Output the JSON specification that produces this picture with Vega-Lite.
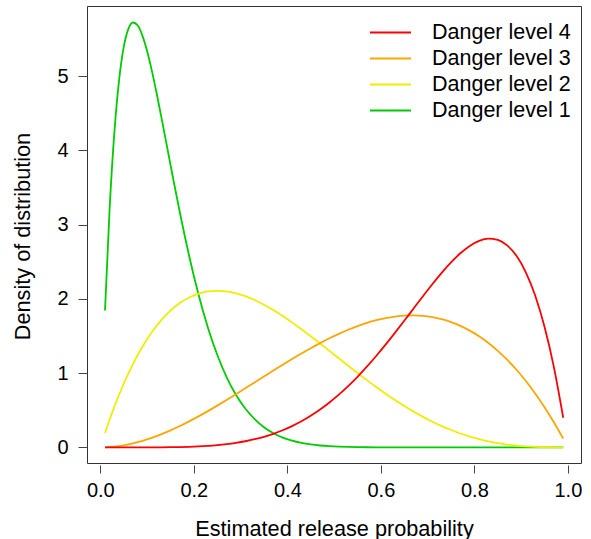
{
  "$schema": "https://vega.github.io/schema/vega-lite/v6.json",
  "width": 494,
  "height": 457,
  "autosize": {"type": "none"},
  "padding": {"left": 87, "top": 6, "right": 10, "bottom": 76},
  "background": "white",
  "config": {
    "font": "Liberation Sans",
    "view": {"stroke": "#333333", "strokeWidth": 1},
    "axis": {"grid": false, "domain": false, "labelColor": "black", "titleColor": "black", "tickColor": "#444444", "titleFontWeight": "normal", "labelFont": "Liberation Sans", "titleFont": "Liberation Sans"}
  },
  "datasets": {
    "curves": [
      {"p":0.01,"d":1.8428,"s":"Danger level 1"},{"p":0.02,"d":3.2299,"s":"Danger level 1"},{"p":0.03,"d":4.2401,"s":"Danger level 1"},{"p":0.04,"d":4.9411,"s":"Danger level 1"},{"p":0.05,"d":5.39,"s":"Danger level 1"},{"p":0.06,"d":5.6372,"s":"Danger level 1"},{"p":0.07,"d":5.7229,"s":"Danger level 1"},{"p":0.08,"d":5.6822,"s":"Danger level 1"},{"p":0.09,"d":5.5466,"s":"Danger level 1"},{"p":0.10,"d":5.3389,"s":"Danger level 1"},{"p":0.11,"d":5.0781,"s":"Danger level 1"},{"p":0.12,"d":4.7827,"s":"Danger level 1"},{"p":0.13,"d":4.4652,"s":"Danger level 1"},{"p":0.14,"d":4.1391,"s":"Danger level 1"},{"p":0.15,"d":3.8093,"s":"Danger level 1"},{"p":0.16,"d":3.4839,"s":"Danger level 1"},{"p":0.17,"d":3.1674,"s":"Danger level 1"},{"p":0.18,"d":2.8645,"s":"Danger level 1"},{"p":0.19,"d":2.5779,"s":"Danger level 1"},{"p":0.20,"d":2.3092,"s":"Danger level 1"},{"p":0.21,"d":2.0586,"s":"Danger level 1"},{"p":0.23,"d":1.6156,"s":"Danger level 1"},{"p":0.25,"d":1.2474,"s":"Danger level 1"},{"p":0.27,"d":0.948,"s":"Danger level 1"},{"p":0.29,"d":0.7095,"s":"Danger level 1"},{"p":0.31,"d":0.5232,"s":"Danger level 1"},{"p":0.33,"d":0.38,"s":"Danger level 1"},{"p":0.35,"d":0.2717,"s":"Danger level 1"},{"p":0.37,"d":0.1914,"s":"Danger level 1"},{"p":0.39,"d":0.1326,"s":"Danger level 1"},{"p":0.41,"d":0.0903,"s":"Danger level 1"},{"p":0.43,"d":0.0605,"s":"Danger level 1"},{"p":0.45,"d":0.0398,"s":"Danger level 1"},{"p":0.47,"d":0.0257,"s":"Danger level 1"},{"p":0.49,"d":0.0162,"s":"Danger level 1"},{"p":0.51,"d":0.0101,"s":"Danger level 1"},{"p":0.53,"d":0.0061,"s":"Danger level 1"},{"p":0.55,"d":0.0036,"s":"Danger level 1"},{"p":0.57,"d":0.0021,"s":"Danger level 1"},{"p":0.59,"d":0.0011,"s":"Danger level 1"},{"p":0.61,"d":0.0006,"s":"Danger level 1"},{"p":0.63,"d":0.0003,"s":"Danger level 1"},{"p":0.65,"d":0.0001,"s":"Danger level 1"},{"p":0.75,"d":0,"s":"Danger level 1"},{"p":0.85,"d":0,"s":"Danger level 1"},{"p":0.99,"d":0,"s":"Danger level 1"},
      {"p":0.01,"d":0.1941,"s":"Danger level 2"},{"p":0.03,"d":0.5476,"s":"Danger level 2"},{"p":0.05,"d":0.8574,"s":"Danger level 2"},{"p":0.07,"d":1.1261,"s":"Danger level 2"},{"p":0.09,"d":1.3564,"s":"Danger level 2"},{"p":0.11,"d":1.5509,"s":"Danger level 2"},{"p":0.13,"d":1.7121,"s":"Danger level 2"},{"p":0.15,"d":1.8424,"s":"Danger level 2"},{"p":0.17,"d":1.9441,"s":"Danger level 2"},{"p":0.19,"d":2.0195,"s":"Danger level 2"},{"p":0.21,"d":2.0708,"s":"Danger level 2"},{"p":0.23,"d":2.1001,"s":"Danger level 2"},{"p":0.25,"d":2.1094,"s":"Danger level 2"},{"p":0.27,"d":2.1007,"s":"Danger level 2"},{"p":0.29,"d":2.0759,"s":"Danger level 2"},{"p":0.31,"d":2.0368,"s":"Danger level 2"},{"p":0.33,"d":1.985,"s":"Danger level 2"},{"p":0.35,"d":1.9224,"s":"Danger level 2"},{"p":0.37,"d":1.8503,"s":"Danger level 2"},{"p":0.39,"d":1.7704,"s":"Danger level 2"},{"p":0.41,"d":1.6841,"s":"Danger level 2"},{"p":0.43,"d":1.5927,"s":"Danger level 2"},{"p":0.45,"d":1.4974,"s":"Danger level 2"},{"p":0.47,"d":1.3994,"s":"Danger level 2"},{"p":0.49,"d":1.3,"s":"Danger level 2"},{"p":0.51,"d":1.2,"s":"Danger level 2"},{"p":0.53,"d":1.1005,"s":"Danger level 2"},{"p":0.55,"d":1.0024,"s":"Danger level 2"},{"p":0.57,"d":0.9064,"s":"Danger level 2"},{"p":0.59,"d":0.8133,"s":"Danger level 2"},{"p":0.61,"d":0.7237,"s":"Danger level 2"},{"p":0.63,"d":0.6382,"s":"Danger level 2"},{"p":0.65,"d":0.5574,"s":"Danger level 2"},{"p":0.67,"d":0.4816,"s":"Danger level 2"},{"p":0.69,"d":0.4111,"s":"Danger level 2"},{"p":0.71,"d":0.3463,"s":"Danger level 2"},{"p":0.73,"d":0.2874,"s":"Danger level 2"},{"p":0.75,"d":0.2344,"s":"Danger level 2"},{"p":0.77,"d":0.1874,"s":"Danger level 2"},{"p":0.79,"d":0.1463,"s":"Danger level 2"},{"p":0.81,"d":0.1111,"s":"Danger level 2"},{"p":0.83,"d":0.0816,"s":"Danger level 2"},{"p":0.85,"d":0.0574,"s":"Danger level 2"},{"p":0.87,"d":0.0382,"s":"Danger level 2"},{"p":0.89,"d":0.0237,"s":"Danger level 2"},{"p":0.91,"d":0.0133,"s":"Danger level 2"},{"p":0.93,"d":0.0064,"s":"Danger level 2"},{"p":0.95,"d":0.0024,"s":"Danger level 2"},{"p":0.97,"d":0.0005,"s":"Danger level 2"},{"p":0.99,"d":0,"s":"Danger level 2"},
      {"p":0.01,"d":0.0012,"s":"Danger level 3"},{"p":0.03,"d":0.0105,"s":"Danger level 3"},{"p":0.05,"d":0.0285,"s":"Danger level 3"},{"p":0.07,"d":0.0547,"s":"Danger level 3"},{"p":0.09,"d":0.0885,"s":"Danger level 3"},{"p":0.11,"d":0.1292,"s":"Danger level 3"},{"p":0.13,"d":0.1764,"s":"Danger level 3"},{"p":0.15,"d":0.2295,"s":"Danger level 3"},{"p":0.17,"d":0.2878,"s":"Danger level 3"},{"p":0.19,"d":0.3509,"s":"Danger level 3"},{"p":0.21,"d":0.4181,"s":"Danger level 3"},{"p":0.23,"d":0.4888,"s":"Danger level 3"},{"p":0.25,"d":0.5625,"s":"Danger level 3"},{"p":0.27,"d":0.6386,"s":"Danger level 3"},{"p":0.29,"d":0.7165,"s":"Danger level 3"},{"p":0.31,"d":0.7957,"s":"Danger level 3"},{"p":0.33,"d":0.8756,"s":"Danger level 3"},{"p":0.35,"d":0.9555,"s":"Danger level 3"},{"p":0.37,"d":1.035,"s":"Danger level 3"},{"p":0.39,"d":1.1134,"s":"Danger level 3"},{"p":0.41,"d":1.1901,"s":"Danger level 3"},{"p":0.43,"d":1.2647,"s":"Danger level 3"},{"p":0.45,"d":1.3365,"s":"Danger level 3"},{"p":0.47,"d":1.4049,"s":"Danger level 3"},{"p":0.49,"d":1.4694,"s":"Danger level 3"},{"p":0.51,"d":1.5294,"s":"Danger level 3"},{"p":0.53,"d":1.5843,"s":"Danger level 3"},{"p":0.55,"d":1.6335,"s":"Danger level 3"},{"p":0.57,"d":1.6765,"s":"Danger level 3"},{"p":0.59,"d":1.7127,"s":"Danger level 3"},{"p":0.61,"d":1.7414,"s":"Danger level 3"},{"p":0.63,"d":1.7622,"s":"Danger level 3"},{"p":0.65,"d":1.7745,"s":"Danger level 3"},{"p":0.67,"d":1.7776,"s":"Danger level 3"},{"p":0.69,"d":1.7711,"s":"Danger level 3"},{"p":0.71,"d":1.7543,"s":"Danger level 3"},{"p":0.73,"d":1.7266,"s":"Danger level 3"},{"p":0.75,"d":1.6875,"s":"Danger level 3"},{"p":0.77,"d":1.6364,"s":"Danger level 3"},{"p":0.79,"d":1.5727,"s":"Danger level 3"},{"p":0.81,"d":1.4959,"s":"Danger level 3"},{"p":0.83,"d":1.4054,"s":"Danger level 3"},{"p":0.85,"d":1.3005,"s":"Danger level 3"},{"p":0.87,"d":1.1808,"s":"Danger level 3"},{"p":0.89,"d":1.0456,"s":"Danger level 3"},{"p":0.91,"d":0.8943,"s":"Danger level 3"},{"p":0.93,"d":0.7265,"s":"Danger level 3"},{"p":0.95,"d":0.5415,"s":"Danger level 3"},{"p":0.97,"d":0.3387,"s":"Danger level 3"},{"p":0.99,"d":0.1176,"s":"Danger level 3"},
      {"p":0.01,"d":0,"s":"Danger level 4"},{"p":0.05,"d":0,"s":"Danger level 4"},{"p":0.09,"d":0.0002,"s":"Danger level 4"},{"p":0.11,"d":0.0006,"s":"Danger level 4"},{"p":0.13,"d":0.0014,"s":"Danger level 4"},{"p":0.15,"d":0.0027,"s":"Danger level 4"},{"p":0.17,"d":0.005,"s":"Danger level 4"},{"p":0.19,"d":0.0084,"s":"Danger level 4"},{"p":0.21,"d":0.0135,"s":"Danger level 4"},{"p":0.23,"d":0.0208,"s":"Danger level 4"},{"p":0.25,"d":0.0308,"s":"Danger level 4"},{"p":0.27,"d":0.044,"s":"Danger level 4"},{"p":0.29,"d":0.0612,"s":"Danger level 4"},{"p":0.31,"d":0.083,"s":"Danger level 4"},{"p":0.33,"d":0.1101,"s":"Danger level 4"},{"p":0.35,"d":0.1434,"s":"Danger level 4"},{"p":0.37,"d":0.1835,"s":"Danger level 4"},{"p":0.39,"d":0.2312,"s":"Danger level 4"},{"p":0.41,"d":0.2871,"s":"Danger level 4"},{"p":0.43,"d":0.3519,"s":"Danger level 4"},{"p":0.45,"d":0.4263,"s":"Danger level 4"},{"p":0.47,"d":0.5105,"s":"Danger level 4"},{"p":0.49,"d":0.6051,"s":"Danger level 4"},{"p":0.51,"d":0.7101,"s":"Danger level 4"},{"p":0.53,"d":0.8255,"s":"Danger level 4"},{"p":0.55,"d":0.9512,"s":"Danger level 4"},{"p":0.57,"d":1.0867,"s":"Danger level 4"},{"p":0.59,"d":1.2311,"s":"Danger level 4"},{"p":0.61,"d":1.3835,"s":"Danger level 4"},{"p":0.63,"d":1.5423,"s":"Danger level 4"},{"p":0.65,"d":1.7056,"s":"Danger level 4"},{"p":0.67,"d":1.8713,"s":"Danger level 4"},{"p":0.69,"d":2.0364,"s":"Danger level 4"},{"p":0.71,"d":2.1976,"s":"Danger level 4"},{"p":0.73,"d":2.3509,"s":"Danger level 4"},{"p":0.75,"d":2.4917,"s":"Danger level 4"},{"p":0.77,"d":2.6147,"s":"Danger level 4"},{"p":0.79,"d":2.714,"s":"Danger level 4"},{"p":0.81,"d":2.7825,"s":"Danger level 4"},{"p":0.83,"d":2.8125,"s":"Danger level 4"},{"p":0.85,"d":2.7953,"s":"Danger level 4"},{"p":0.87,"d":2.7214,"s":"Danger level 4"},{"p":0.89,"d":2.5798,"s":"Danger level 4"},{"p":0.91,"d":2.3588,"s":"Danger level 4"},{"p":0.93,"d":2.0453,"s":"Danger level 4"},{"p":0.95,"d":1.6249,"s":"Danger level 4"},{"p":0.97,"d":1.082,"s":"Danger level 4"},{"p":0.99,"d":0.3994,"s":"Danger level 4"}
    ]
  },
  "data": {"name": "curves"},
  "mark": {"type": "line", "strokeWidth": 1.8, "interpolate": "monotone", "clip": true},
  "encoding": {
    "x": {
      "field": "p", "type": "quantitative",
      "scale": {"domain": [-0.0285, 1.028], "nice": false, "zero": false},
      "axis": {
        "values": [0, 0.2, 0.4, 0.6, 0.8, 1], "format": ".1f",
        "tickSize": 8, "offset": 2, "labelFontSize": 20, "labelBaseline": "alphabetic", "labelPadding": 23, "labelFlush": false,
        "title": "Estimated release probability", "titleFontSize": 21.7, "titleBaseline": "alphabetic", "titleY": 70
      }
    },
    "y": {
      "field": "d", "type": "quantitative",
      "scale": {"domain": [-0.21, 5.945], "nice": false, "zero": false},
      "axis": {
        "values": [0, 1, 2, 3, 4, 5], "format": "d",
        "tickSize": 9, "labelFontSize": 20, "labelPadding": 10,
        "title": "Density of distribution", "titleFontSize": 21.7, "titleAngle": -90, "titleBaseline": "alphabetic", "titleAlign": "center", "titleX": -58, "titleY": 230
      }
    },
    "color": {
      "field": "s", "type": "nominal",
      "scale": {"domain": ["Danger level 4", "Danger level 3", "Danger level 2", "Danger level 1"], "range": ["#FF0000", "#FFA500", "#EEEE00", "#00CD00"]},
      "legend": {
        "title": null, "orient": "none", "legendX": 292, "legendY": 15, "padding": 0,
        "symbolType": "M-2,0L2,0", "symbolSize": 420, "symbolStrokeWidth": 1.8,
        "labelFontSize": 21.5, "labelFont": "Liberation Sans", "labelColor": "black", "labelOffset": 30, "rowPadding": 4
      }
    },
    "order": {"field": "p"}
  }
}
